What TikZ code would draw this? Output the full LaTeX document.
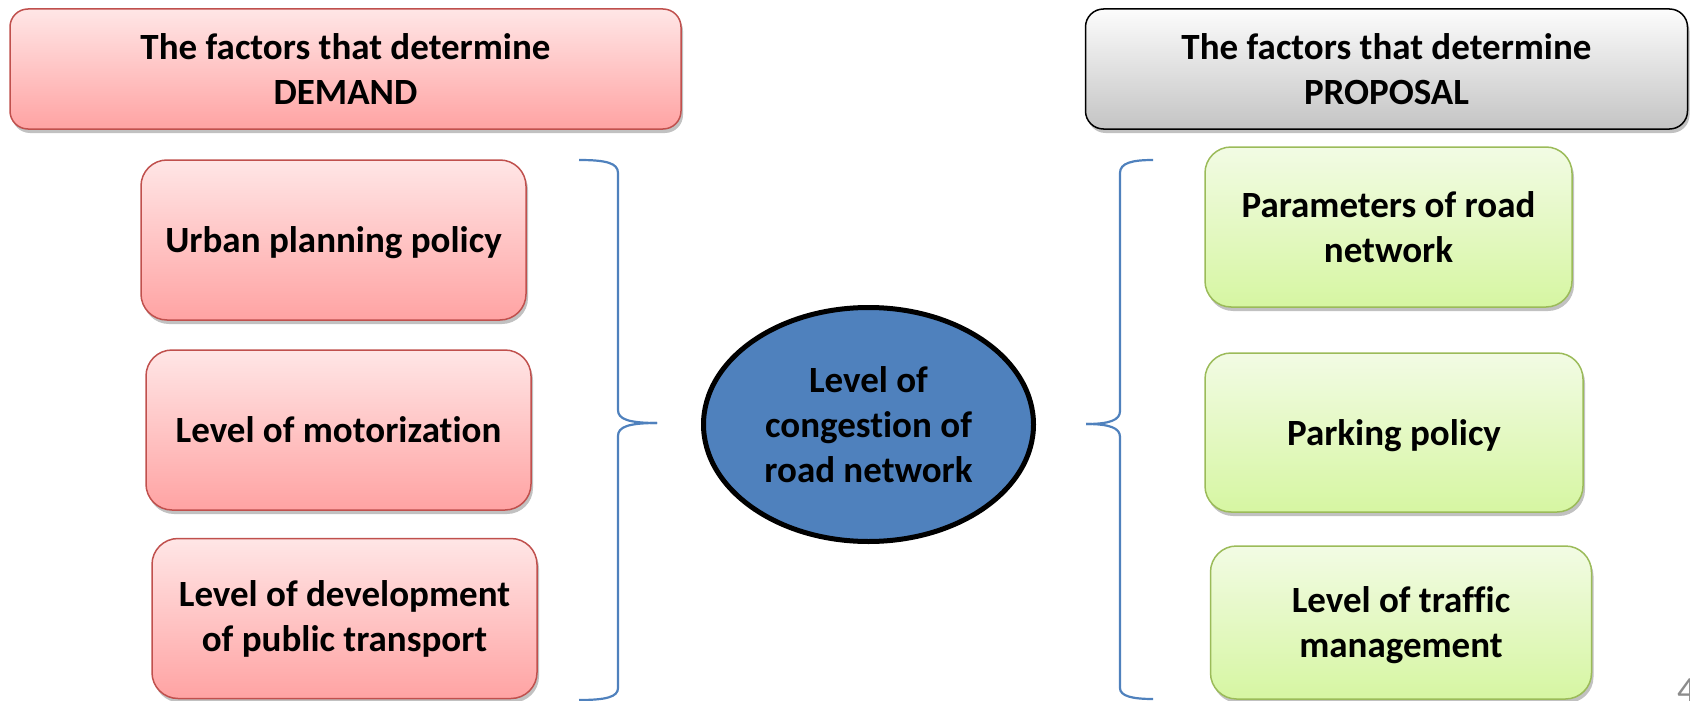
\documentclass[tikz,border=0pt]{standalone}
\usepackage{fontspec}
\setmainfont{Carlito}[Ligatures=NoCommon]
\usetikzlibrary{shadows,shapes.geometric}
\definecolor{pinkTop}{RGB}{255,230,230}
\definecolor{pinkBot}{RGB}{255,163,163}
\definecolor{pinkLine}{RGB}{192,80,77}
\definecolor{greyTop}{RGB}{252,252,252}
\definecolor{greyBot}{RGB}{196,196,196}
\definecolor{greenTop}{RGB}{242,251,228}
\definecolor{greenBot}{RGB}{214,246,162}
\definecolor{greenLine}{RGB}{155,187,89}
\definecolor{accentBlue}{RGB}{79,129,189}
\begin{document}
\begin{tikzpicture}[x=1pt,y=-1pt,
  txt/.style={align=center, inner sep=0pt, font=\fontsize{37}{45}\selectfont\bfseries},
  shadowed/.style={drop shadow={shadow xshift=2pt, shadow yshift=-4pt, opacity=0.35, fill=black!70}},
  box/.style={txt, shadowed, rounded corners=26pt, line width=1.5pt},
  headbox/.style={txt, shadowed, rounded corners=18pt, line width=1.5pt},
  demand/.style={box, draw=pinkLine, top color=pinkTop, bottom color=pinkBot},
  demandhead/.style={headbox, draw=pinkLine, top color=pinkTop, bottom color=pinkBot},
  supply/.style={box, draw=greenLine, top color=greenTop, bottom color=greenBot},
  supplyhead/.style={headbox, draw=black, top color=greyTop, bottom color=greyBot},
  nodepth/.style={text depth=0pt},
  brace/.style={draw=accentBlue, line width=2.2pt}
]
\useasboundingbox (0,0) rectangle (1690,701);

% headers
\node[demandhead, minimum width=671pt, minimum height=120pt] (dh) at (345.5,69)
  {The factors that determine\\DEMAND};
\node[supplyhead, minimum width=602pt, minimum height=120pt] (sh) at (1386.5,69)
  {The factors that determine\\PROPOSAL};

% demand boxes
\node[demand, nodepth, minimum width=385pt, minimum height=160pt] (d1) at (333.5,240)
  {Urban planning policy};
\node[demand, minimum width=385pt, minimum height=160pt] (d2) at (338.5,430)
  {Level of motorization};
\node[demand, minimum width=385pt, minimum height=160pt] (d3) at (344.5,618.5)
  {Level of development\\of public transport};

% supply boxes
\node[supply, minimum width=367pt, minimum height=160pt] (s1) at (1388.5,227)
  {Parameters of road\\network};
\node[supply, nodepth, minimum width=378pt, minimum height=159pt] (s2) at (1394,432.5)
  {Parking policy};
\node[supply, nodepth, minimum width=381pt, minimum height=153pt] (s3) at (1401,622.5)
  {Level of traffic\\management};

% centre
\node[txt, ellipse, draw=black, line width=5pt, fill=accentBlue,
      minimum width=330pt, minimum height=234pt] (c) at (868.5,424.5)
  {Level of\\congestion of\\road network};

% left brace
\coordinate (lt) at (579,160);
\coordinate (lb) at (579,700);
\coordinate (lm) at (657,423);
\draw[brace] (lt) .. controls (606,160) and (618,163) .. (618,173)
  -- (618,410) .. controls (618,419) and (628,423) .. (lm);
\draw[brace] (lm) .. controls (628,423) and (618,427) .. (618,436)
  -- (618,688) .. controls (618,697) and (606,700) .. (lb);

% right brace
\coordinate (rt) at (1153,160);
\coordinate (rb) at (1153,699);
\coordinate (rm) at (1086,424);
\draw[brace] (rt) .. controls (1132,160) and (1120,163) .. (1120,173)
  -- (1120,411) .. controls (1120,420) and (1110,424) .. (rm);
\draw[brace] (rm) .. controls (1110,424) and (1120,428) .. (1120,437)
  -- (1120,688) .. controls (1120,696) and (1132,699) .. (rb);

% page number (cut by the edge)
\node[anchor=north west, inner sep=0pt, text=black!45,
      font=\fontsize{37}{45}\selectfont] (pg) at (1677,679) {4};
\end{tikzpicture}
\end{document}
